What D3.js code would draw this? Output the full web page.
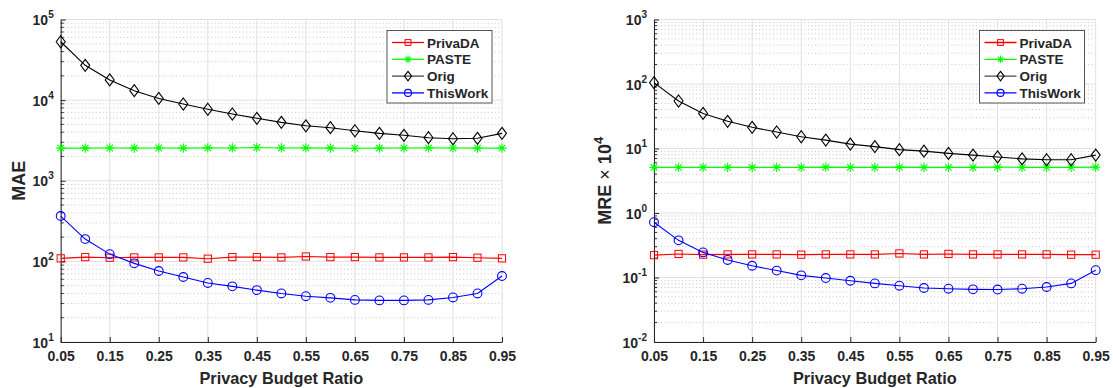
<!DOCTYPE html>
<html><head><meta charset="utf-8">
<script src="https://cdn.jsdelivr.net/npm/d3@7/dist/d3.min.js"></script>
<style>body{margin:0;background:#fff}svg{display:block}text{font-family:"Liberation Sans",Arial,Helvetica,sans-serif;font-weight:bold;fill:#262626}</style>
</head><body><svg id="c" width="1113" height="388"></svg>
<script>
const ratios = [0.05,0.10,0.15,0.20,0.25,0.30,0.35,0.40,0.45,0.50,0.55,0.60,0.65,0.70,0.75,0.80,0.85,0.90,0.95];
const xTicks = [0.05,0.15,0.25,0.35,0.45,0.55,0.65,0.75,0.85,0.95];
const seriesNames = ["PrivaDA","PASTE","Orig","ThisWork"];
const seriesColors = ["#ff0000","#00ff00","#000000","#0000ff"];
const seriesMarkers = ["square","asterisk","diamond","circle"];

// MAE panel
const maePrivaDA = [109,113,111,112,112,112,108,113,113,112,115,113,113,112,112,112,113,111,109];
const maePASTE = [2540,2540,2550,2540,2550,2540,2560,2550,2580,2550,2560,2540,2530,2540,2550,2560,2550,2540,2540];
const maeOrig = [53000,27000,17800,13100,10500,8950,7700,6730,5950,5300,4800,4550,4170,3870,3660,3420,3320,3360,3870];
const maeThisWork = [365,189,123,94.5,76,64,54,49,44,40,37,35.3,33.3,32.8,32.8,33.3,35.7,40,65.8];
const maeYTicks = [1,2,3,4,5];

// MRE x 10^4 panel
const mrePrivaDA = [0.222,0.232,0.226,0.228,0.228,0.228,0.226,0.228,0.228,0.228,0.236,0.228,0.232,0.228,0.228,0.228,0.228,0.226,0.226];
const mrePASTE = [5.1,5.1,5.1,5.1,5.1,5.1,5.1,5.15,5.1,5.1,5.15,5.1,5.1,5.1,5.15,5.1,5.1,5.1,5.15];
const mreOrig = [105,54.5,35,26.4,21.3,18,15.2,13.5,11.7,10.7,9.6,9.1,8.4,7.9,7.4,6.9,6.7,6.7,7.9];
const mreThisWork = [0.72,0.377,0.245,0.187,0.152,0.128,0.108,0.098,0.089,0.081,0.0746,0.0687,0.067,0.0655,0.065,0.067,0.0713,0.081,0.13];
const mreYTicks = [-2,-1,0,1,2,3];

const svg = d3.select("#c");

function panel(o){
  const g = svg.append("g");
  const x = d3.scaleLinear().domain([0.05,0.95]).range([o.x0,o.x1]);
  const y = d3.scaleLog().domain(o.ydom).range([o.y1,o.y0]);
  const lo = Math.log10(o.ydom[0]), hi = Math.log10(o.ydom[1]);
  const minors = [];
  for(let e=lo;e<hi;e++) for(let k=2;k<=9;k++) minors.push(k*Math.pow(10,e));
  g.selectAll(".mg").data(minors).join("line")
    .attr("x1",o.x0).attr("x2",o.x1).attr("y1",d=>y(d)).attr("y2",d=>y(d))
    .attr("stroke","#b8b8b8").attr("stroke-width",0.8).attr("stroke-dasharray","1,2.5");
  g.selectAll(".hg").data(o.yt).join("line")
    .attr("x1",o.x0).attr("x2",o.x1).attr("y1",d=>y(Math.pow(10,d))).attr("y2",d=>y(Math.pow(10,d)))
    .attr("stroke","#e0e0e0").attr("stroke-width",1);
  g.selectAll(".vg").data(xTicks).join("line")
    .attr("x1",d=>x(d)).attr("x2",d=>x(d)).attr("y1",o.y0).attr("y2",o.y1)
    .attr("stroke","#e0e0e0").attr("stroke-width",1);
  const xa = g.append("g").attr("transform",`translate(0,${o.y1})`)
    .call(d3.axisBottom(x).tickValues(xTicks).tickFormat(d3.format(".2f")).tickSizeInner(-5).tickSizeOuter(0).tickPadding(9));
  xa.select(".domain").attr("stroke","#262626");
  xa.selectAll(".tick line").attr("stroke","#262626");
  xa.selectAll("text").attr("font-size",14).attr("fill","#262626");
  const ya = g.append("g").attr("transform",`translate(${o.x0},0)`)
    .call(d3.axisLeft(y).tickValues(o.yt.map(e=>Math.pow(10,e))).tickFormat("").tickSizeInner(-5).tickSizeOuter(0));
  ya.select(".domain").attr("stroke","#262626");
  ya.selectAll(".tick line").attr("stroke","#262626");
  g.selectAll(".mt").data(minors).join("line")
    .attr("x1",o.x0).attr("x2",o.x0+3).attr("y1",d=>y(d)).attr("y2",d=>y(d)).attr("stroke","#262626");
  const lab = g.selectAll(".yl").data(o.yt).join("text")
    .attr("x",o.x0-7).attr("y",d=>y(Math.pow(10,d))+5.5).attr("text-anchor","end").attr("font-size",14);
  lab.append("tspan").text("10");
  lab.append("tspan").attr("dy",-7).attr("font-size",10).text(d=>d<0?"-"+(-d):d);
  g.append("text").attr("x",(o.x0+o.x1)/2).attr("y",384).attr("text-anchor","middle").attr("font-size",16.3).text("Privacy Budget Ratio");
  const yl = g.append("text").attr("transform",`translate(${o.ylx},${(o.y0+o.y1)/2}) rotate(-90)`).attr("text-anchor","middle").attr("font-size",18);
  yl.append("tspan").text(o.ylabel);
  if(o.ysup){
    yl.append("tspan").attr("font-weight","normal").text(" \u00d7 ");
    yl.append("tspan").text("10");
    yl.append("tspan").attr("dy",-8).attr("font-size",13).text(o.ysup);
  }
  const line = d3.line().x((d,i)=>x(ratios[i])).y(d=>y(d));
  o.data.forEach((vals,si)=>{
    const c = seriesColors[si];
    g.append("path").datum(vals).attr("d",line).attr("fill","none").attr("stroke",c).attr("stroke-width",1.1);
    vals.forEach((v,i)=>marker(g,seriesMarkers[si],x(ratios[i]),y(v),c,1));
  });
  const lg = g.append("g");
  lg.append("rect").attr("x",o.lx).attr("y",30.5).attr("width",105).attr("height",72.5).attr("fill","#fff").attr("stroke","#444").attr("stroke-width",0.9);
  seriesNames.forEach((n,i)=>{
    const yy = 42.5+i*16.8;
    lg.append("line").attr("x1",o.lx+5).attr("x2",o.lx+37).attr("y1",yy).attr("y2",yy).attr("stroke",seriesColors[i]).attr("stroke-width",1.3).attr("opacity",i===2?0.7:1);
    marker(lg,seriesMarkers[i],o.lx+21,yy,seriesColors[i],0.8);
    lg.append("text").attr("x",o.lx+40).attr("y",yy+5).attr("font-size",13.5).attr("fill","#000").text(n);
  });
}

function marker(g,type,cx,cy,c,s){
  if(type==="square") g.append("rect").attr("x",cx-3.6*s).attr("y",cy-3.6*s).attr("width",7.2*s).attr("height",7.2*s).attr("fill","none").attr("stroke",c);
  else if(type==="circle") g.append("circle").attr("cx",cx).attr("cy",cy).attr("r",4.4*s).attr("fill","none").attr("stroke",c).attr("stroke-width",1.1);
  else if(type==="diamond") g.append("path").attr("d",`M${cx},${cy-6*s}L${cx+4.5*s},${cy}L${cx},${cy+6*s}L${cx-4.5*s},${cy}Z`).attr("fill","none").attr("stroke",c).attr("stroke-width",1.1);
  else if(type==="asterisk"){
    const r=4.6*s;
    const p=`M${cx-r},${cy}L${cx+r},${cy}M${cx},${cy-r}L${cx},${cy+r}M${cx-r*.72},${cy-r*.72}L${cx+r*.72},${cy+r*.72}M${cx-r*.72},${cy+r*.72}L${cx+r*.72},${cy-r*.72}`;
    g.append("path").attr("d",p).attr("stroke",c).attr("stroke-width",1.1).attr("fill","none");
  }
}

panel({x0:60.7,x1:502,y0:19.5,y1:342,ydom:[10,1e5],yt:maeYTicks,ylabel:"MAE",ylx:25,lx:387,
  data:[maePrivaDA,maePASTE,maeOrig,maeThisWork]});
panel({x0:654,x1:1095.7,y0:19.5,y1:342,ydom:[0.01,1000],yt:mreYTicks,ylabel:"MRE",ysup:"4",ylx:611,lx:979.5,
  data:[mrePrivaDA,mrePASTE,mreOrig,mreThisWork]});
</script></body></html>
